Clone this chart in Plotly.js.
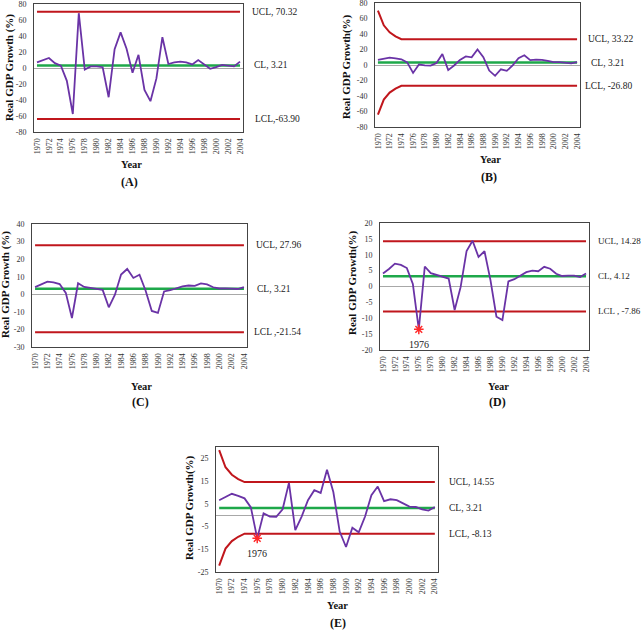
<!DOCTYPE html>
<html>
<head>
<meta charset="utf-8">
<script src="https://cdn.plot.ly/plotly-3.0.1.min.js"></script>
<style>html,body{margin:0;padding:0;background:#fff;}#chart{width:641px;height:630px;}</style>
</head>
<body>
<div id="chart"></div>
<script>
// ---------- DATA ----------
const years = [1970,1971,1972,1973,1974,1975,1976,1977,1978,1979,1980,1981,1982,1983,1984,1985,1986,1987,1988,1989,1990,1991,1992,1993,1994,1995,1996,1997,1998,1999,2000,2001,2002,2003,2004];
const yearTicks = [1970,1972,1974,1976,1978,1980,1982,1984,1986,1988,1990,1992,1994,1996,1998,2000,2002,2004];

// Panel A series
const growthA = [7,10,12.5,6,3,-16,-57.5,68.5,-2,2,2,1,-36.5,23.5,44.5,24,-6,16.5,-27.5,-41.5,-13,38.5,5,7,8,7,4.5,10,5,-1,1,4,3,2,8];
// Panels C and D series
const growthCD = [4.1,5.5,7.2,6.8,5.8,0.8,-13.5,6.3,4.2,3.6,3.1,2.5,-7.4,-0.2,11.2,14.4,9.3,11.1,2,-9.5,-10.6,1.6,2.3,3.5,4.5,5,4.8,6.2,5.6,4,3.3,3.4,3.4,3,4.1];
// Panels B and E series
const growthBE = [6.6,8,9.4,8.5,7.4,3.4,-10.2,0.8,-0.6,-0.7,2.6,14.2,-6.6,-0.6,6.6,11,9.8,20,10.2,-7.2,-14,-5.5,-7.5,-0.6,8.8,12.6,6.2,7,6.6,5.2,3.8,3.6,2.6,2,3.6];

// Control limits
const limA = {ucl:70.32, cl:3.21, lcl:-63.90};
const limC = {ucl:27.96, cl:3.21, lcl:-21.54};
const limD = {ucl:14.28, cl:3.21, lcl:-7.86};
const limB = {ucl:33.22, cl:3.21, lcl:-26.80};
const limE = {ucl:14.55, cl:3.21, lcl:-8.13};
// Early-period (1970-1973) widened limits for B and E
const uclStartB = [70.3,51.2,42.2,37.0];
const lclStartB = [-64.0,-44.6,-35.6,-30.5];
const uclStartE = [28.6,21.1,17.8,15.9];
const lclStartE = [-22.2,-14.7,-11.4,-9.5];

// Tick values
const ticksAB = [-80,-60,-40,-20,0,20,40,60,80];
const ticksC = [-30,-20,-10,0,10,20,30,40];
const ticksD = [-20,-15,-10,-5,0,5,10,15,20];
const ticksE = [-25,-15,-5,5,15,25];

// Labels
const labelsA = ['UCL, 70.32','CL, 3.21','LCL,-63.90'];
const labelsB = ['UCL, 33.22','CL, 3.21','LCL, -26.80'];
const labelsC = ['UCL, 27.96','CL, 3.21','LCL ,-21.54'];
const labelsD = ['UCL, 14.28','CL, 4.12','LCL , -7.86'];
const labelsE = ['UCL, 14.55','CL, 3.21','LCL, -8.13'];
const outlierYear = 1976;

// ---------- BUILD ----------
const W = 641, H = 630;
const serif = 'Liberation Serif, Times New Roman, serif';
const RED = '#c0161c', GREEN = '#1ea84a', PURPLE = '#6a33a6';

function constant(v){ return years.map(() => v); }
function withStart(start, v){ return years.map((y,i) => i < start.length ? start[i] : v); }

const panels = [
  {id:'', series:growthA, lim:limA, ucl:constant(limA.ucl), lcl:constant(limA.lcl), labels:labelsA,
   box:[34,243,4,132], range:[-80,80], tickvals:ticksAB, labX:[250,252,253], labSize:9.5, ytitle:'Real GDP Growth (%)', ytPos:[9,68], yearPos:[131,165], tag:'(A)', tagPos:[129,182]},
  {id:'2', series:growthBE, lim:limB, ucl:withStart(uclStartB,limB.ucl), lcl:withStart(lclStartB,limB.lcl), labels:labelsB,
   box:[375,580,3,127], range:[-80,80], tickvals:ticksAB, labX:[586,589,583], labSize:9.5, ytitle:'Real GDP Growth(%)', ytPos:[347,67], yearPos:[490,159], tag:'(B)', tagPos:[489,177]},
  {id:'3', series:growthCD, lim:limC, ucl:constant(limC.ucl), lcl:constant(limC.lcl), labels:labelsC,
   box:[32,247,224,347], range:[-30,40], tickvals:ticksC, labX:[254,255,252], labSize:9.5, ytitle:'Real GDP Growth (%)', ytPos:[6,285], yearPos:[141,386], tag:'(C)', tagPos:[140,402]},
  {id:'4', series:growthCD, lim:limD, ucl:constant(limD.ucl), lcl:constant(limD.lcl), labels:labelsD,
   box:[380,589,223,350], range:[-20,20], tickvals:ticksD, labX:[596,596,596], labSize:9, ytitle:'Real GDP Growth(%)', ytPos:[352,283], yearPos:[498,386], tag:'(D)', tagPos:[497,402], outlier:true},
  {id:'5', series:growthBE, lim:limE, ucl:withStart(uclStartE,limE.ucl), lcl:withStart(lclStartE,limE.lcl), labels:labelsE,
   box:[216,438,447,572], range:[-25,30], tickvals:ticksE, labX:[447,447,447], labSize:9.5, ytitle:'Real GDP Growth(%)', ytPos:[189,508], yearPos:[337,605], tag:'(E)', tagPos:[338,623], outlier:true}
];

const traces = [];
const layout = {
  width:W, height:H, margin:{l:0,r:0,t:0,b:0},
  paper_bgcolor:'#fff', plot_bgcolor:'#fff', showlegend:false,
  annotations:[], font:{family:serif, color:'#222'}
};

panels.forEach(p => {
  const xa = 'x'+p.id, ya = 'y'+p.id;
  const [x0,x1,y0,y1] = p.box;
  layout['xaxis'+p.id] = {
    domain:[x0/W, x1/W], anchor:ya, range:[1969.5,2004.5], tickmode:'array', tickvals:yearTicks,
    ticktext:yearTicks.map(String), tickangle:-90, tickfont:{family:serif,size:8,color:'#333'},
    showline:true, mirror:true, linecolor:'#444', linewidth:1, showgrid:false, zeroline:false, ticks:'',
    ticklabelstandoff:2, ticklabeloverflow:'allow', fixedrange:true
  };
  layout['yaxis'+p.id] = {
    domain:[1-y1/H, 1-y0/H], anchor:xa, range:p.range, tickmode:'array', tickvals:p.tickvals,
    ticktext:p.tickvals.map(String), tickfont:{family:serif,size:8,color:'#333'},
    showline:true, mirror:true, linecolor:'#444', linewidth:1, showgrid:false,
    zeroline:true, zerolinecolor:'#a8a8a8', zerolinewidth:1, ticks:'', ticklabelstandoff:5,
    ticklabeloverflow:'allow', fixedrange:true
  };

  traces.push({x:years, y:p.ucl, xaxis:xa, yaxis:ya, mode:'lines', line:{color:RED,width:2}, hoverinfo:'skip'});
  traces.push({x:years, y:p.lcl, xaxis:xa, yaxis:ya, mode:'lines', line:{color:RED,width:2}, hoverinfo:'skip'});
  traces.push({x:years, y:constant(p.lim.cl), xaxis:xa, yaxis:ya, mode:'lines', line:{color:GREEN,width:2.5}, hoverinfo:'skip'});
  traces.push({x:years, y:p.series, xaxis:xa, yaxis:ya, mode:'lines', line:{color:PURPLE,width:1.8}});

  const limVals = [p.lim.ucl, p.lim.cl, p.lim.lcl];
  p.labels.forEach((t,i) => {
    layout.annotations.push({xref:'paper', x:p.labX[i]/W, yref:ya, y:limVals[i], text:t, showarrow:false,
      xanchor:'left', yanchor:'middle', font:{family:serif,size:p.labSize,color:'#222'}});
  });
  layout.annotations.push({xref:'paper', yref:'paper', x:p.ytPos[0]/W, y:1-p.ytPos[1]/H, text:'<b>'+p.ytitle+'</b>', textangle:-90,
    showarrow:false, xanchor:'center', yanchor:'middle', font:{family:serif,size:11,color:'#111'}});
  layout.annotations.push({xref:'paper', yref:'paper', x:p.yearPos[0]/W, y:1-p.yearPos[1]/H, text:'<b>Year</b>',
    showarrow:false, xanchor:'center', yanchor:'middle', font:{family:serif,size:10.5,color:'#111'}});
  layout.annotations.push({xref:'paper', yref:'paper', x:p.tagPos[0]/W, y:1-p.tagPos[1]/H, text:'<b>'+p.tag+'</b>',
    showarrow:false, xanchor:'center', yanchor:'middle', font:{family:serif,size:12,color:'#111'}});

  if (p.outlier) {
    const idx = years.indexOf(outlierYear);
    traces.push({x:[outlierYear], y:[p.series[idx]], xaxis:xa, yaxis:ya, mode:'markers',
      marker:{symbol:'asterisk-open', size:8, color:'#ff2a2a', line:{color:'#ff2a2a', width:1.5}}});
    layout.annotations.push({xref:xa, yref:ya, x:outlierYear, y:p.series[idx], yshift:-15, text:String(outlierYear),
      showarrow:false, xanchor:'center', yanchor:'middle', font:{family:serif,size:10,color:'#222'}});
  }
});

Plotly.newPlot('chart', traces, layout, {staticPlot:true, displayModeBar:false});
</script>
</body>
</html>
